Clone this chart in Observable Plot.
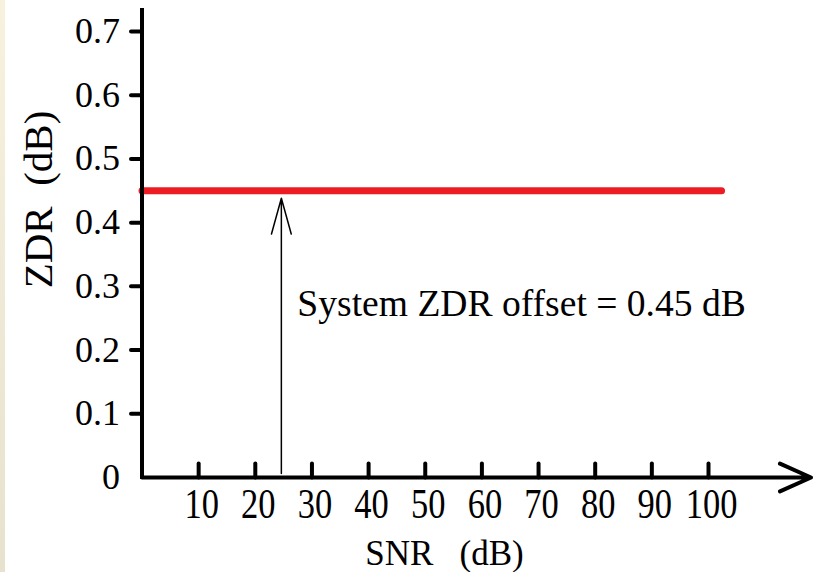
<!DOCTYPE html>
<html>
<head>
<meta charset="utf-8">
<script src="https://cdn.jsdelivr.net/npm/d3@7"></script>
<script src="https://cdn.jsdelivr.net/npm/@observablehq/plot@0.6"></script>
<style>
html, body { margin: 0; padding: 0; background: #fff; }
#wrap { position: relative; width: 819px; height: 572px; overflow: hidden; background: #fff; }
#strip { position: absolute; left: 0; top: 0; width: 5px; height: 572px; background: linear-gradient(#f7f1de, #e6e2ce); }
svg text { white-space: pre; }
</style>
</head>
<body>
<div id="wrap"><div id="strip"></div></div>
<script>
// ---- data ----
const xTicks = [10, 20, 30, 40, 50, 60, 70, 80, 90, 100];
const yTicks = [0, 0.1, 0.2, 0.3, 0.4, 0.5, 0.6, 0.7];
const offsetSNR = [0, 102.3];
const offsetZDR = [0.45, 0.45];
const arrowSNR = 24.6;
const offsetValue = 0.45;
const xLabel = "SNR   (dB)";
const yLabel = "ZDR  (dB)";
const annotation = "System ZDR offset = 0.45 dB";

// ---- layout ----
const W = 819, H = 572;
const mL = 141.5, mR = 111, mT = 31, mB = 95;
const xAxisEnd = 118.1;   // arrow tip of x axis (in x units)
const yAxisTop = 0.733;   // top end of y axis line (in y units)
const tickShape = { draw(context, l) { context.moveTo(0, 0); context.lineTo(0, -l); } };
const serif = "'Liberation Serif', 'Times New Roman', serif";

const lineData = offsetSNR.map((s, i) => ({ snr: s, zdr: offsetZDR[i] }));

const chart = Plot.plot({
  width: W, height: H,
  marginLeft: mL, marginRight: mR, marginTop: mT, marginBottom: mB,
  x: { domain: [0, 100] },
  y: { domain: [0, 0.7] },
  style: { fontFamily: serif, color: "#000", background: "transparent", overflow: "visible" },
  marks: [
    Plot.line(lineData, { x: "snr", y: "zdr", stroke: "#ed1c24", strokeWidth: 7, strokeLinecap: "round" }),
    Plot.ruleX([0], { x: d => d, y1: () => 0, y2: () => yAxisTop, strokeWidth: 4, strokeLinecap: "square", stroke: "#000" }),
    Plot.arrow([0], { x1: () => 0, y1: () => 0, x2: () => xAxisEnd, y2: () => 0, strokeWidth: 4, headAngle: 48, headLength: 12.75, stroke: "#000" }),
    Plot.vector(xTicks, { x: d => d, y: () => 0, length: 14, rotate: 0, anchor: "start", shape: tickShape, strokeWidth: 4, stroke: "#000", fill: "none" }),
    Plot.vector(yTicks.filter(d => d > 0), { x: () => 0, y: d => d, length: 11, rotate: -90, anchor: "start", shape: tickShape, strokeWidth: 4, stroke: "#000", fill: "none" }),
    Plot.axisX({ ticks: xTicks, tickSize: 0, tickPadding: 13.7, fontSize: 34.5, dx: 3, label: null, tickFormat: d => String(d) }),
    Plot.axisY({ ticks: yTicks, tickSize: 0, tickPadding: 22, fontSize: 36, label: null, tickFormat: d => String(d) }),
    Plot.arrow([offsetValue], { x1: () => arrowSNR, x2: () => arrowSNR, y1: () => 0, y2: d => d, strokeWidth: 1.5, headAngle: 31, headLength: 37, insetStart: 4, insetEnd: 7.5, stroke: "#000" }),
    Plot.text([annotation], { text: d => d, x: () => arrowSNR, y: () => 0, dx: 16, dy: -161.7, textAnchor: "start", lineAnchor: "bottom", fontSize: 37.6, ariaLabel: "annotation", fill: "#000" }),
    Plot.text([xLabel], { text: d => d, frameAnchor: "bottom", dx: 19.25, dy: 87, textAnchor: "middle", lineAnchor: "bottom", fontSize: 35, ariaLabel: "x-title", fill: "#000" }),
    Plot.text([yLabel], { text: d => d, frameAnchor: "top-left", dx: 38 - mL, dy: 199 - mT, rotate: -90, textAnchor: "middle", lineAnchor: "middle", fontSize: 41, ariaLabel: "y-title", fill: "#000" })
  ]
});

const wrap = document.getElementById("wrap");
wrap.insertBefore(chart, wrap.firstChild);

function stretch(selector, s) {
  chart.querySelectorAll(selector).forEach(t => {
    const bb = t.getBBox();
    const cy = bb.y + bb.height / 2;
    const tr = t.getAttribute("transform") || "";
    t.setAttribute("transform", `${tr} translate(0,${cy}) scale(1,${s}) translate(0,${-cy})`);
  });
}
stretch('g[aria-label="x-axis tick label"] text', 1.2);
stretch('g[aria-label="x-title"] text', 1.21);
stretch('g[aria-label="annotation"] text', 1.13);
</script>
</body>
</html>
